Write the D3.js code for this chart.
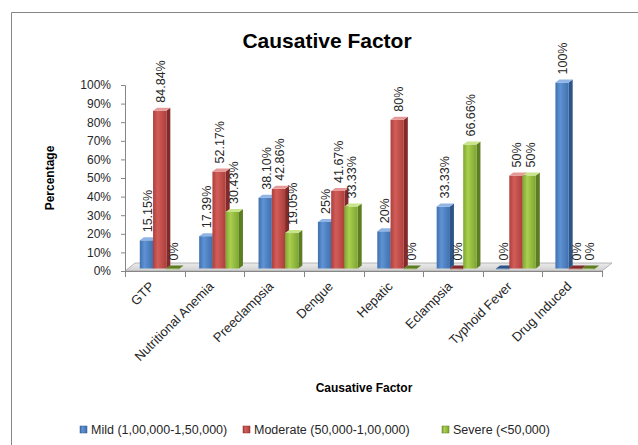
<!DOCTYPE html>
<html>
<head>
<meta charset="utf-8">
<script src="https://cdn.jsdelivr.net/npm/d3@7"></script>
<style>
  body { margin: 0; background: #fff; }
  text { font-family: "Liberation Sans", Arial, sans-serif; }
</style>
</head>
<body>
<div id="chart"></div>
<script>
// Chart values
const categories = ['GTP', 'Nutritional Anemia', 'Preeclampsia', 'Dengue', 'Hepatic', 'Eclampsia', 'Typhoid Fever', 'Drug Induced'];
const seriesNames = ['Mild (1,00,000-1,50,000)', 'Moderate (50,000-1,00,000)', 'Severe (<50,000)'];
const mild     = [15.15, 17.39, 38.10, 25, 20, 33.33, 0, 100];
const moderate = [84.84, 52.17, 42.86, 41.67, 80, 0, 50, 0];
const severe   = [0, 30.43, 19.05, 33.33, 0, 66.66, 50, 0];
const labelsMild     = ['15.15%', '17.39%', '38.10%', '25%', '20%', '33.33%', '0%', '100%'];
const labelsModerate = ['84.84%', '52.17%', '42.86%', '41.67%', '80%', '0%', '50%', '0%'];
const labelsSevere   = ['0%', '30.43%', '19.05%', '33.33%', '0%', '66.66%', '50%', '0%'];
const yTicks = [0, 10, 20, 30, 40, 50, 60, 70, 80, 90, 100];

const series = [
  { name: seriesNames[0], values: mild, labels: labelsMild, key: 'blue' },
  { name: seriesNames[1], values: moderate, labels: labelsModerate, key: 'red' },
  { name: seriesNames[2], values: severe, labels: labelsSevere, key: 'green' }
];

// shades per series: front light, front dark, side, top
const shades = {
  blue:  { l: '#5f93d3', d: '#3f6fae', side: '#2c5488', top: '#8fb5e6' },
  red:   { l: '#d25d59', d: '#ad3f3b', side: '#83292a', top: '#e69a97' },
  green: { l: '#a9d04e', d: '#7ea532', side: '#5d7d22', top: '#c8e58a' }
};

const W = 638, H = 445;
const svg = d3.select('#chart').append('svg')
    .attr('width', W)
    .attr('height', H);

const defs = svg.append('defs');
Object.entries(shades).forEach(([k, s]) => {
  const g = defs.append('linearGradient').attr('id', 'g-' + k)
      .attr('x1', '0%').attr('x2', '100%').attr('y1', '0%').attr('y2', '0%');
  g.append('stop').attr('offset', '0%').attr('stop-color', s.d);
  g.append('stop').attr('offset', '35%').attr('stop-color', s.l);
  g.append('stop').attr('offset', '100%').attr('stop-color', s.d);
});
const fg = defs.append('linearGradient').attr('id', 'floor')
    .attr('x1', '0%').attr('x2', '0%').attr('y1', '0%').attr('y2', '100%');
fg.append('stop').attr('offset', '0%').attr('stop-color', '#ececec');
fg.append('stop').attr('offset', '100%').attr('stop-color', '#cfcfcf');

// chart frame
svg.append('path')
    .attr('d', `M11.5,${H} V12.5 H${W}`)
    .attr('fill', 'none')
    .attr('stroke', '#868686');

// Scales
const y = d3.scaleLinear().domain([0, 100]).range([271, 85]);
const x = d3.scaleBand().domain(categories).range([125, 602]);
const xBar = d3.scaleBand().domain(categories).range([130, 605])
    .paddingInner(0.33).paddingOuter(0.165);
const xSub = d3.scaleBand().domain(series.map(s => s.key)).range([0, xBar.bandwidth()]);

const depth = { dx: 10, dy: -8 };
const barLift = 2.5;
const side = { dx: 4, dy: -3 };

// Floor
const fy = y(0), fx0 = x.range()[0], fx1 = x.range()[1];
svg.append('path')
    .attr('d', `M${fx0},${fy} L${fx1},${fy} L${fx1 + depth.dx},${fy + depth.dy} L${fx0 + depth.dx},${fy + depth.dy} Z`)
    .attr('fill', 'url(#floor)')
    .attr('stroke', '#a6a6a6')
    .attr('stroke-width', 0.8);

// Y axis
const yAxis = svg.append('g')
    .attr('transform', `translate(${fx0},0)`)
    .call(d3.axisLeft(y).tickValues(yTicks).tickSize(4).tickPadding(10).tickFormat(d => d + '%'));
yAxis.select('.domain').attr('stroke', '#868686');
yAxis.selectAll('.tick line').attr('stroke', '#868686');
yAxis.selectAll('.tick text')
    .style('font-size', '12px')
    .attr('fill', '#262626');

// X axis (category boundaries as ticks)
svg.append('line')
    .attr('x1', fx0).attr('x2', fx1)
    .attr('y1', fy + 0.5).attr('y2', fy + 0.5)
    .attr('stroke', '#868686');
svg.append('g').selectAll('line')
    .data(categories.concat(['end']))
    .join('line')
    .attr('x1', (d, i) => Math.round(fx0 + i * x.step()) + 0.5)
    .attr('x2', (d, i) => Math.round(fx0 + i * x.step()) + 0.5)
    .attr('y1', fy)
    .attr('y2', fy + 6)
    .attr('stroke', '#868686');

svg.append('g').selectAll('text')
    .data(categories)
    .join('text')
    .attr('transform', d => `translate(${x(d) + x.bandwidth() / 2 - 3},${fy + 13}) rotate(-45)`)
    .attr('text-anchor', 'end')
    .attr('dy', '0.35em')
    .style('font-size', '13px')
    .attr('fill', '#262626')
    .text(d => d);

// Bars
series.forEach(s => {
  const sh = shades[s.key];
  const g = svg.append('g');
  categories.forEach((c, i) => {
    const v = s.values[i];
    const x0 = xBar(c) + xSub(s.key);
    const w = xSub.bandwidth();
    const base = y(0) - barLift;
    const top = y(v) - barLift;
    // side face
    g.append('path')
        .attr('d', `M${x0 + w},${top} L${x0 + w + side.dx},${top + side.dy} L${x0 + w + side.dx},${base + side.dy} L${x0 + w},${base} Z`)
        .attr('fill', sh.side);
    // front face
    g.append('rect')
        .attr('x', x0)
        .attr('y', top)
        .attr('width', w)
        .attr('height', Math.max(base - top, 0.8))
        .attr('fill', `url(#g-${s.key})`);
    // top face
    g.append('path')
        .attr('d', `M${x0},${top} L${x0 + w},${top} L${x0 + w + side.dx},${top + side.dy} L${x0 + side.dx},${top + side.dy} Z`)
        .attr('fill', v > 0 ? sh.top : sh.side);
  });
});

// Data labels
series.forEach(s => {
  svg.append('g').selectAll('text')
      .data(categories)
      .join('text')
      .attr('transform', (c, i) => {
        const cx = xBar(c) + xSub(s.key) + xSub.bandwidth() / 2 + 1;
        const ty = y(s.values[i]) - barLift - 8;
        return `translate(${cx},${ty}) rotate(-90)`;
      })
      .attr('dy', '0.35em')
      .attr('text-anchor', 'start')
      .style('font-size', '12.5px')
      .attr('fill', '#262626')
      .text((c, i) => s.labels[i]);
});

// Title
svg.append('text')
    .attr('x', 327)
    .attr('y', 48)
    .attr('text-anchor', 'middle')
    .style('font-size', '21px')
    .style('font-weight', 'bold')
    .text('Causative Factor');

// Axis titles
svg.append('text')
    .attr('transform', 'translate(54,178) rotate(-90)')
    .attr('text-anchor', 'middle')
    .style('font-size', '12px')
    .style('font-weight', 'bold')
    .text('Percentage');

svg.append('text')
    .attr('x', 364)
    .attr('y', 392)
    .attr('text-anchor', 'middle')
    .style('font-size', '12px')
    .style('font-weight', 'bold')
    .text('Causative Factor');

// Legend
const legendX = [80, 243, 442];
const legend = svg.append('g').selectAll('g')
    .data(series)
    .join('g')
    .attr('transform', (d, i) => `translate(${legendX[i]},430)`);
legend.append('rect')
    .attr('x', 0).attr('y', -4)
    .attr('width', 7).attr('height', 7)
    .attr('fill', d => `url(#g-${d.key})`)
    .attr('stroke', d => shades[d.key].side)
    .attr('stroke-width', 0.5);
legend.append('text')
    .attr('x', 11)
    .attr('dy', '0.35em')
    .style('font-size', '12.5px')
    .attr('fill', '#262626')
    .text(d => d.name);
</script>
</body>
</html>
